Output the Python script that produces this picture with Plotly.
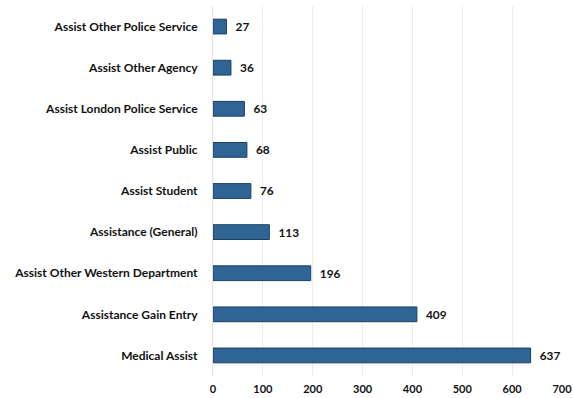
import plotly.graph_objects as go

categories = [
    "Assist Other Police Service",
    "Assist Other Agency",
    "Assist London Police Service",
    "Assist Public",
    "Assist Student",
    "Assistance (General)",
    "Assist Other Western Department",
    "Assistance Gain Entry",
    "Medical Assist",
]
counts = [27, 36, 63, 68, 76, 113, 196, 409, 637]
x_ticks = [0, 100, 200, 300, 400, 500, 600, 700]

FONT = "Lato, 'DejaVu Sans', sans-serif"

fig = go.Figure(
    go.Bar(
        y=categories,
        x=counts,
        orientation="h",
        width=0.36,
        marker=dict(color="#2f6594", line=dict(color="#1d3f63", width=1)),
        # leading spaces push each value label a little away from its bar end
        text=[f"  <b>{v}</b>" for v in counts],
        textposition="outside",
        textfont=dict(family=FONT, size=12, color="#111111"),
        cliponaxis=False,
    )
)

fig.update_layout(
    width=573,
    height=398,
    margin=dict(l=213, r=11, t=6, b=22, autoexpand=False),
    paper_bgcolor="white",
    plot_bgcolor="white",
    showlegend=False,
    font=dict(family=FONT, size=12, color="#111111"),
)

fig.update_yaxes(
    categoryorder="array",
    categoryarray=categories,
    autorange="reversed",
    showgrid=False,
    showline=True,
    linecolor="#e3e3e3",
    linewidth=1,
    ticks="",
    ticklabelstandoff=12,
    tickfont=dict(family=FONT, size=12, color="#111111", weight="bold"),
)

fig.update_xaxes(
    range=[0, 700],
    tickvals=x_ticks,
    showgrid=True,
    gridcolor="#ececec",
    gridwidth=1,
    zeroline=False,
    showline=False,
    ticks="",
    ticklabelstandoff=5,
    ticklabeloverflow="allow",
    tickfont=dict(family=FONT, size=11, color="#111111", weight="bold"),
)

fig.write_html("out.html")
